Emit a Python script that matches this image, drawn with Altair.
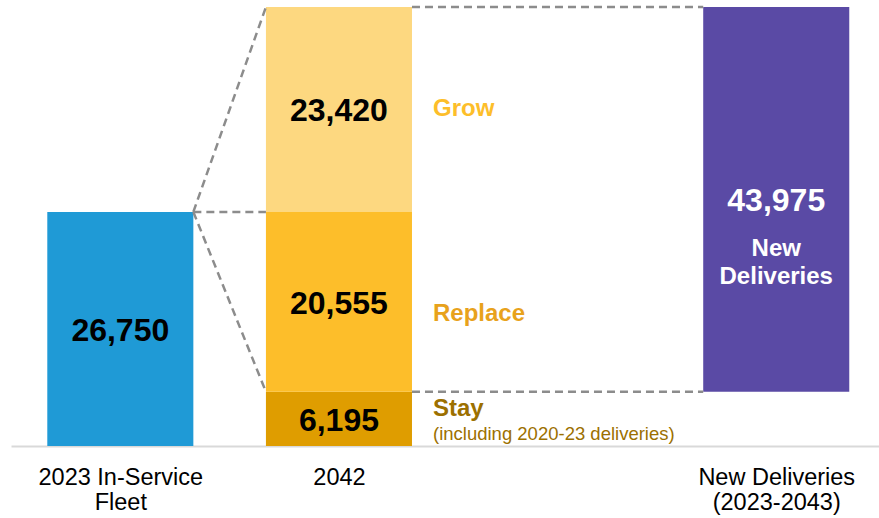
import altair as alt
import pandas as pd

# ---- data ----
slot_labels = ["2023 In-Service Fleet", "2042", "", "New Deliveries (2023-2043)"]
seg_names = ["Fleet", "Stay", "Replace", "Grow", "New Deliveries"]
seg_slot = [0, 1, 1, 1, 3]
seg_values = [26750, 6195, 20555, 23420, 43975]
seg_colors = ["#1F9AD6", "#DF9D00", "#FDBE2A", "#FDD880", "#5A4AA5"]
seg_text_colors = ["#000000", "#000000", "#000000", "#000000", "#FFFFFF"]

BAR = 0.668  # bar width as a share of a slot

# stacking: 2042 segments stacked; new deliveries float on top of "Stay"
bases = []
cum = {}
for name, s, v in zip(seg_names, seg_slot, seg_values):
    if name == "New Deliveries":
        b = seg_values[seg_names.index("Stay")]
    else:
        b = cum.get(s, 0)
        cum[s] = b + v
    bases.append(b)

segs = pd.DataFrame({
    "name": seg_names,
    "slot": seg_slot,
    "value": seg_values,
    "base": bases,
    "color": seg_colors,
    "tcolor": seg_text_colors,
})
segs["top"] = segs["base"] + segs["value"]
segs["left"] = segs["slot"] + (1 - BAR) / 2
segs["right"] = segs["slot"] + (1 + BAR) / 2
segs["center"] = segs["slot"] + 0.5
segs["mid"] = (segs["base"] + segs["top"]) / 2
segs["label"] = segs["value"].map(lambda v: f"{v:,}")

total_2042 = segs.loc[segs.slot == 1, "value"].sum()
fleet_top = segs.loc[segs.name == "Fleet", "top"].iloc[0]
stay_top = segs.loc[segs.name == "Stay", "top"].iloc[0]
grow_base = segs.loc[segs.name == "Grow", "base"].iloc[0]

def edge(slot, side):
    return slot + (1 + BAR) / 2 if side == "r" else slot + (1 - BAR) / 2

conn = pd.DataFrame([
    {"x": edge(0, "r"), "y": fleet_top, "x2": edge(1, "l"), "y2": total_2042},
    {"x": edge(0, "r"), "y": fleet_top, "x2": edge(1, "l"), "y2": grow_base},
    {"x": edge(0, "r"), "y": fleet_top, "x2": edge(1, "l"), "y2": stay_top},
    {"x": edge(1, "r"), "y": total_2042, "x2": edge(3, "l"), "y2": total_2042},
    {"x": edge(1, "r"), "y": stay_top, "x2": edge(3, "l"), "y2": stay_top},
])

side = segs[segs.slot == 1].copy()
side["lx"] = edge(1, "r")
side_colors = {"Grow": "#FDBE2A", "Replace": "#E8A21C", "Stay": "#9C7000"}

FONT = "Liberation Sans"
xs = alt.Scale(domain=[0, 3.97], nice=False, zero=False)
ys = alt.Scale(domain=[0, total_2042], nice=False, zero=True)

label_expr = ("datum.value == 0.5 ? ['2023 In-Service', 'Fleet'] : "
              "datum.value == 1.5 ? '2042' : ['New Deliveries', '(2023-2043)']")
x_axis = alt.Axis(
    values=[0.5, 1.5, 3.5], labelExpr=label_expr, title=None, ticks=False,
    grid=False, domainColor="#D9D9D9", domainWidth=2, labelFont=FONT,
    labelFontSize=23.5, labelColor="#000000", labelPadding=19,
    labelLineHeight=25, labelAngle=0)

def X(field):
    return alt.X(field, scale=xs, axis=x_axis)

def Y(field):
    return alt.Y(field, scale=ys, axis=None)

bars = alt.Chart(segs).mark_bar(strokeWidth=0).encode(
    x=X("left:Q"), x2="right:Q",
    y=Y("base:Q"), y2="top:Q",
    color=alt.Color("color:N", scale=None),
)

lines = alt.Chart(conn).mark_rule(color="#8C8C8C", strokeWidth=2.5, strokeDash=[8, 5]).encode(
    x=X("x:Q"), x2="x2:Q",
    y=Y("y:Q"), y2="y2:Q",
)

nums = alt.Chart(segs).mark_text(font=FONT, fontSize=32, fontWeight="bold", baseline="middle", dy=2).encode(
    x=X("center:Q"), y=Y("mid:Q"),
    text="label:N", color=alt.Color("tcolor:N", scale=None),
)

nd = alt.Chart(segs[segs.name == "New Deliveries"]).mark_text(
    font=FONT, fontSize=24, fontWeight="bold", color="#FFFFFF", baseline="middle",
    lineBreak="\n", lineHeight=28, dy=50).encode(
    x=X("center:Q"), y=Y("mid:Q"),
    text=alt.value("New\nDeliveries"),
)

def side_label(name, dy, txt=None, size=24, bold=True, color=None):
    d = side[side.name == name].copy()
    d["txt"] = txt if txt is not None else name
    return alt.Chart(d).mark_text(
        font=FONT, fontSize=size, fontWeight="bold" if bold else "normal",
        align="left", baseline="middle", dx=21, dy=dy,
        color=color or side_colors[name]).encode(
        x=X("lx:Q"), y=Y("mid:Q"), text="txt:N")

grow_t = side_label("Grow", 0)
rep_t = side_label("Replace", 12)
stay_t = side_label("Stay", -10)
stay_sub = side_label("Stay", 15, txt="(including 2020-23 deliveries)", size=18.5, bold=False,
                      color="#9C7000")

chart = alt.layer(bars, lines, nums, nd, grow_t, rep_t, stay_t, stay_sub).properties(
    width=868, height=439,
    background="#FFFFFF",
    autosize=alt.AutoSizeParams(type="none"),
    padding={"left": 11, "top": 7, "right": 0, "bottom": 72},
).configure_view(strokeWidth=0, stroke="transparent")

chart.save("out.html", embed_options={"renderer": "svg", "actions": False})
